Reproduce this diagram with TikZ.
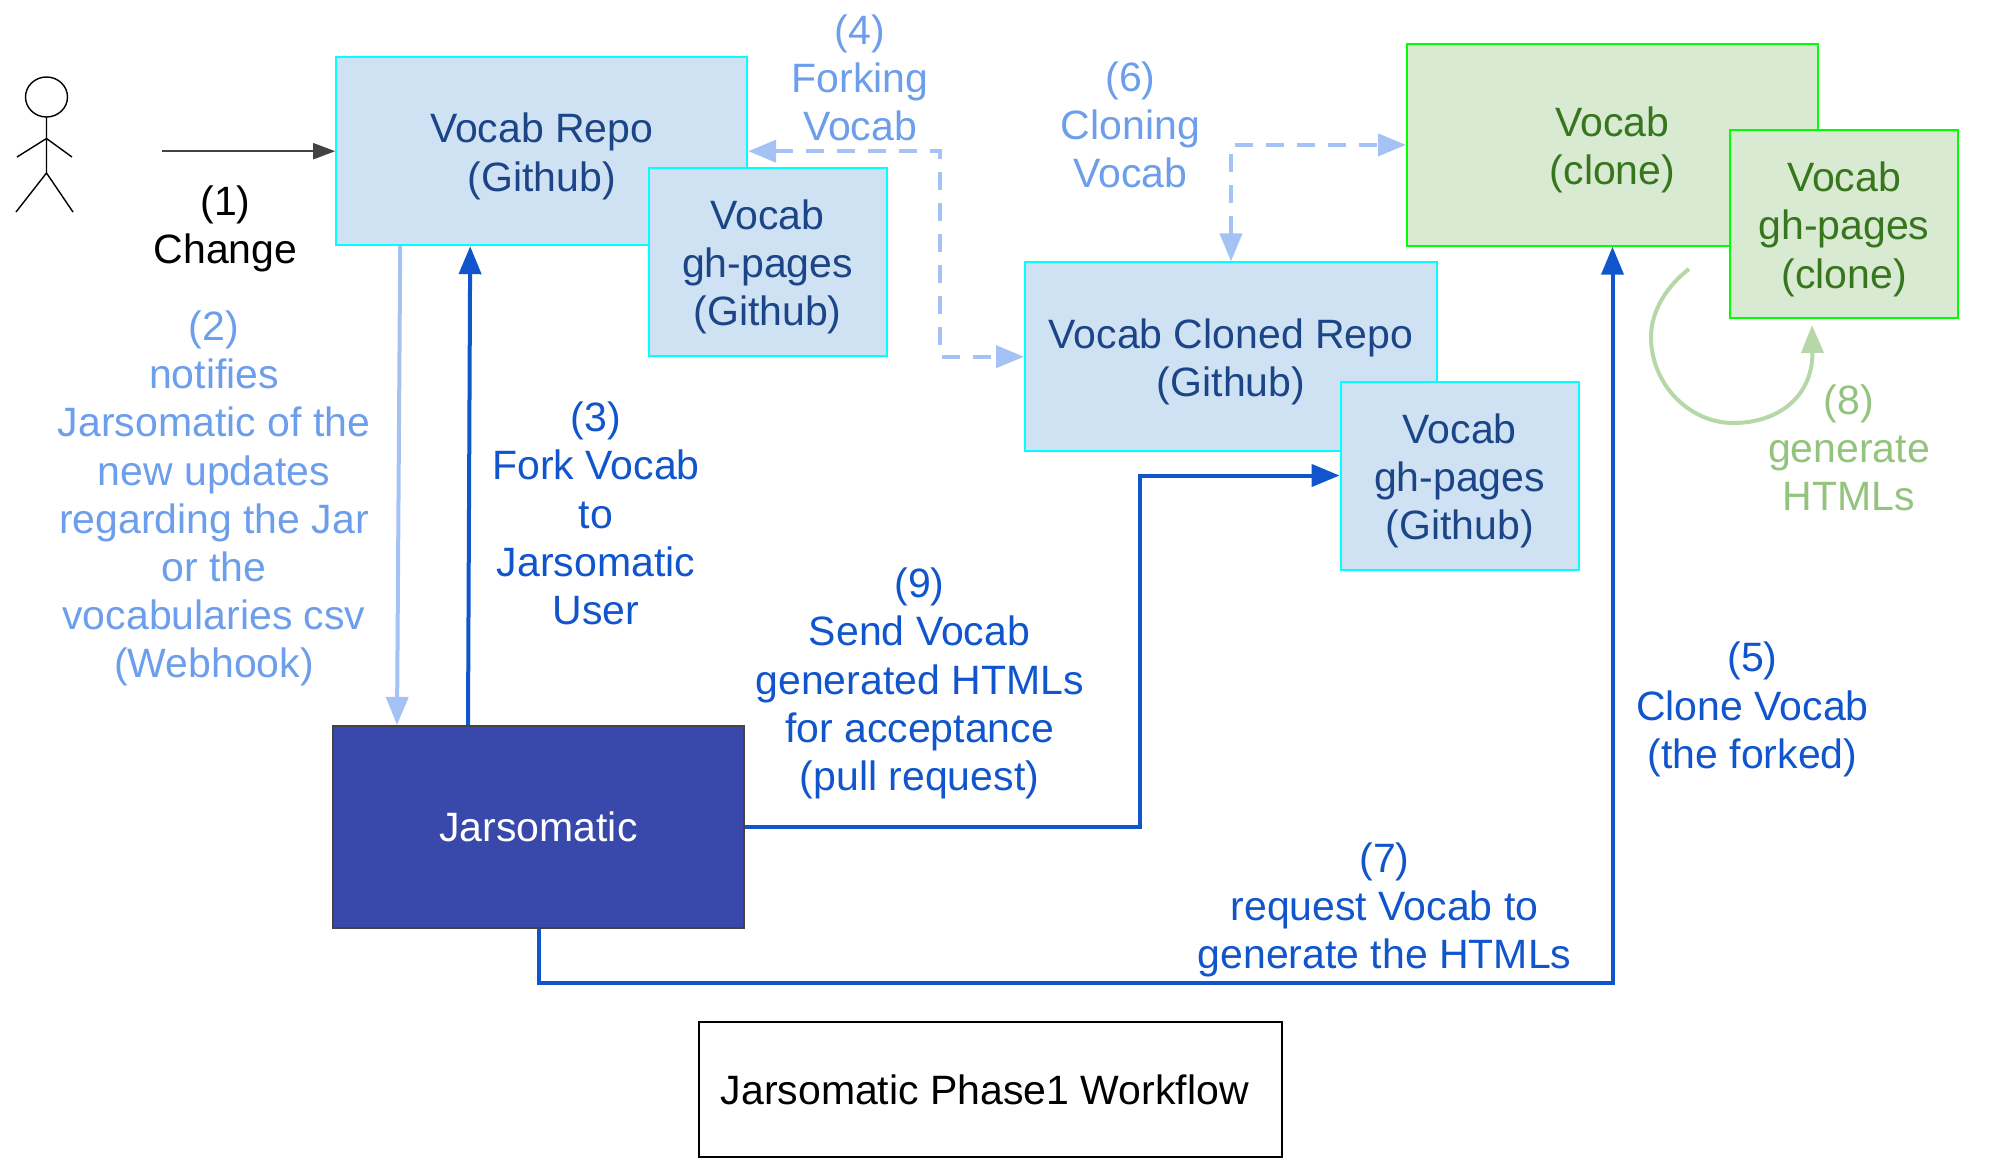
\documentclass[tikz,border=0pt]{standalone}
\usepackage{fontspec}
\setmainfont{Liberation Sans}
\usetikzlibrary{arrows.meta}
\definecolor{repoline}{HTML}{00FFFF}
\definecolor{repofill}{HTML}{CFE2F3}
\definecolor{repotext}{HTML}{1C4587}
\definecolor{cloneline}{HTML}{00FF00}
\definecolor{clonefill}{HTML}{D9EAD3}
\definecolor{clonetext}{HTML}{38761D}
\definecolor{jarfill}{HTML}{3949AB}
\definecolor{jarline}{HTML}{434343}
\definecolor{lightflow}{HTML}{A4C2F4}
\definecolor{lighttext}{HTML}{6D9EEB}
\definecolor{mainflow}{HTML}{1155CC}
\definecolor{genflow}{HTML}{B6D7A8}
\definecolor{gentext}{HTML}{93C47D}
\newcommand{\boxtop}{\rule{0pt}{20pt}}
\tikzset{
  every node/.style={font=\fontsize{20.5}{24.1}\selectfont, align=center},
  repobox/.style={draw=repoline, line width=1pt, fill=repofill, text=repotext},
  clonebox/.style={draw=cloneline, line width=1pt, fill=clonefill, text=clonetext},
  tip/.style={-{Triangle[length=14pt,width=11pt]}},
  tiptwo/.style={{Triangle[length=14pt,width=11pt]}-{Triangle[length=14pt,width=11pt]}},
  mainarrow/.style={tip, draw=mainflow, line width=2pt},
  lightarrow/.style={draw=lightflow, line width=2pt},
}
\begin{document}
\begin{tikzpicture}[x=0.5pt,y=-0.5pt]
  \useasboundingbox (0,0) rectangle (2008,1162);
  % actor
  \draw[line width=0.7pt] (46.5,97) ellipse [x radius=21, y radius=20];
  \draw[line width=0.7pt] (46.5,117) -- (46.5,173) (17,157) -- (46.5,138.5) -- (72,157) (16,212) -- (46.5,173) -- (73,212);
  % boxes
  \node[repobox, minimum width=205.5pt, minimum height=94pt] (repo) at (541.7,151.2) {\boxtop Vocab Repo\\(Github)};
  \node[repobox, minimum width=119pt, minimum height=94pt] (repopages) at (767.5,261.8) {\boxtop Vocab\\gh-pages\\(Github)};
  \node[repobox, minimum width=206pt, minimum height=94.3pt] (cloned) at (1231,356.7) {\boxtop Vocab Cloned Repo\\(Github)};
  \node[repobox, minimum width=119pt, minimum height=94pt] (clonedpages) at (1459.6,475.5) {\boxtop Vocab\\gh-pages\\(Github)};
  \node[clonebox, minimum width=205.5pt, minimum height=100.8pt] (vocab) at (1612.5,144.9) {\boxtop Vocab\\(clone)};
  \node[clonebox, minimum width=114pt, minimum height=94.2pt] (vocabpages) at (1844,224.2) {\boxtop Vocab\\gh-pages\\(clone)};
  \node[draw=jarline, line width=1pt, fill=jarfill, text=white, minimum width=205.5pt, minimum height=101pt] (jar) at (538.5,826.9) {Jarsomatic};
  \node[draw=black, line width=1pt, minimum width=291.3pt, minimum height=67.5pt] (title) at (990.3,1089.5) {Jarsomatic Phase1 Workflow\hspace{5.6pt}};
  % free ends and turns
  \coordinate (actor) at (162,151.2);
  \coordinate (forkturn) at (940,151.2);
  \coordinate (sendturn) at (1139.5,475.5);
  \coordinate (reqturn) at (1612.5,983);
  \coordinate (loopstart) at (1689,269);
  \coordinate (loopend) at (1812,325);
  % connectors
  \draw[-{Triangle[length=11pt,width=8pt]}, draw=jarline, fill=jarline, line width=1pt] (actor) -- (repo.west);
  \draw[lightarrow, tip] ([xshift=32.5pt]repo.south west) -- ([xshift=32.5pt]jar.north west);
  \draw[mainarrow] ([xshift=68pt]jar.north west) -- ([xshift=67.5pt]repo.south west);
  \draw[lightarrow, tiptwo, dash pattern=on 9pt off 6.5pt] (repo.east) -- (forkturn) |- (cloned.west);
  \draw[lightarrow, tiptwo, dash pattern=on 9pt off 6.5pt] (cloned.north) |- (vocab.west);
  \draw[mainarrow] (jar.south) |- (reqturn) -- (vocab.south);
  \draw[mainarrow] (jar.east) -| (sendturn) -- (clonedpages.west);
  \draw[tip, draw=genflow, line width=2pt] (loopstart) .. controls (1668,285) and (1651,310) .. (1651,337) .. controls (1651,385) and (1690,423) .. (1733,423) .. controls (1780,423) and (1813,395) .. (loopend);
  % labels
  \node (changelabel) at (225.5,228.6) {(1)\\Change};
  \node[text=lighttext] (notifylabel) at (214,498.5) {(2)\\notifies\\Jarsomatic of the\\new updates\\regarding the Jar\\or the\\vocabularies csv\\(Webhook)};
  \node[text=mainflow] (forklabel) at (596,513.5) {(3)\\Fork Vocab\\to\\Jarsomatic\\User};
  \node[text=lighttext] (forkinglabel) at (860,78) {(4)\\Forking\\Vocab};
  \node[text=mainflow] (clonelabel) at (1752.5,709.5) {(5)\\Clone Vocab\\(the forked)};
  \node[text=lighttext] (cloninglabel) at (1130.5,125) {(6)\\Cloning\\Vocab};
  \node[text=mainflow] (requestlabel) at (1384.5,910) {(7)\\request Vocab to\\generate the HTMLs};
  \node[text=gentext] (generatelabel) at (1849,448) {(8)\\generate\\HTMLs};
  \node[text=mainflow] (sendlabel) at (919.5,683.5) {(9)\\Send Vocab\\generated HTMLs\\for acceptance\\(pull request)};
\end{tikzpicture}
\end{document}
